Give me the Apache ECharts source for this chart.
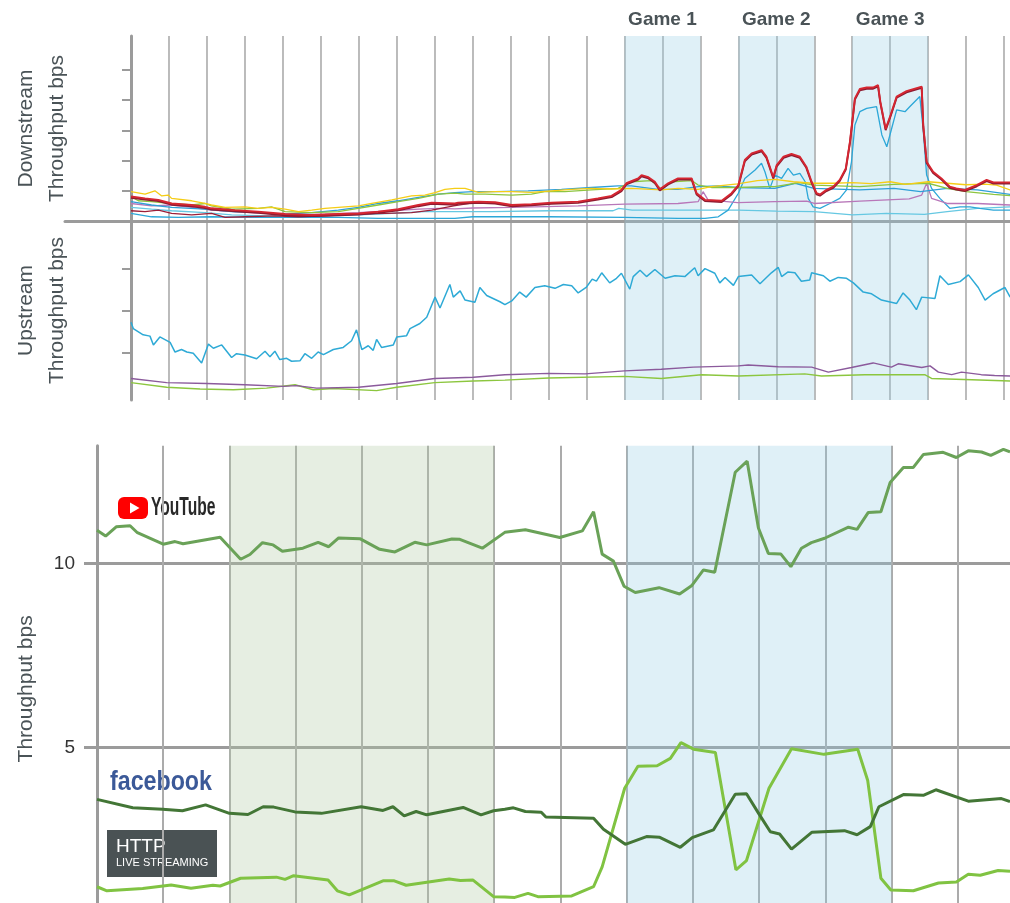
<!DOCTYPE html>
<html><head><meta charset="utf-8">
<script src="https://cdn.jsdelivr.net/npm/echarts@6/dist/echarts.min.js"></script>
<style>html,body{margin:0;padding:0;background:#fff}#c{width:1010px;height:903px}</style>
</head><body><div id="c"></div>
<script>
// ---------- top chart: time ticks and game periods ----------
const topTicks = [1,2,3,4,5,6,7,8,9,10,11,12,13,14,15,16,17,18,19,20,21,22,23];
const games = [['Game 1',13,15],['Game 2',16,18],['Game 3',19,21]];
const downTicks = [1,2,3,4,5];
const upTicks = [1,2,3];

// ---------- downstream throughput ----------
const dsYellow = [[0,0.97],[0.37,0.89],[0.63,1.0],[0.81,0.83],[0.98,0.86],[1.07,0.75],[1.6,0.67],[1.95,0.58],[2.12,0.53],[2.48,0.45],[3.0,0.47],[3.35,0.42],[3.7,0.45],[4.06,0.39],[4.41,0.31],[4.76,0.36],[5.11,0.42],[5.64,0.47],[5.99,0.5],[6.34,0.58],[6.87,0.7],[7.39,0.83],[7.74,0.86],[8.01,0.94],[8.27,1.05],[8.53,1.08],[8.8,1.08],[9.15,0.95],[9.59,0.97],[10.03,0.97],[10.55,0.95],[11.08,1.0],[11.6,1.05],[12.13,1.08],[12.66,1.06],[13.18,1.08],[13.7,1.05],[13.98,1.03],[14.41,1.08],[14.94,1.05],[15.29,1.14],[15.98,1.23],[16.5,1.34],[16.96,1.38],[17.45,1.3],[17.96,1.25],[18.5,1.25],[19.0,1.27],[19.5,1.24],[20.0,1.3],[20.4,1.21],[21.0,1.3],[21.5,1.25],[22.0,1.2],[22.5,1.22],[22.8,1.19],[23.16,1.03]];
const dsGreen = [[0,0.81],[0.19,0.67],[0.54,0.64],[1.07,0.58],[1.6,0.53],[1.95,0.58],[2.12,0.5],[2.65,0.39],[3.35,0.42],[3.7,0.47],[4.06,0.31],[4.76,0.28],[5.46,0.31],[5.99,0.42],[6.51,0.53],[7.04,0.64],[7.57,0.75],[8.1,0.89],[8.53,0.92],[8.8,0.89],[9.33,0.89],[10.03,0.86],[10.55,0.89],[10.9,0.97],[11.43,0.97],[12.13,1.03],[12.83,1.08],[13.18,1.3],[13.7,1.34],[13.98,1.05],[14.24,1.3],[14.77,1.34],[14.94,1.19],[15.29,1.11],[15.98,1.11],[16.7,1.14],[16.96,1.14],[17.6,1.27],[18.0,1.19],[19.2,1.14],[20.1,1.21],[21.0,1.25],[21.5,1.08],[22.0,0.97],[22.72,0.88],[23.16,0.84]];
const dsBlue = [[0,0.64],[0.54,0.53],[1.07,0.45],[1.95,0.39],[2.65,0.31],[3.35,0.28],[4.06,0.23],[4.76,0.28],[5.46,0.36],[5.99,0.45],[6.51,0.58],[7.04,0.67],[7.57,0.78],[8.1,0.89],[8.53,0.94],[9.0,0.97],[9.59,0.97],[10.46,1.0],[11.34,1.05],[12.13,1.11],[12.83,1.16],[13.18,1.16],[13.88,1.05],[14.41,1.05],[14.94,1.14],[15.47,1.16],[15.98,1.11],[16.96,1.08],[17.5,1.25],[17.99,1.08],[19.2,1.03],[20.1,1.08],[20.8,0.97],[21.5,1.08],[22.3,1.03],[23.16,0.88]];
const dsRed = [[0,0.81],[0.37,0.75],[0.72,0.7],[1.07,0.58],[1.6,0.53],[1.95,0.47],[2.12,0.42],[2.74,0.36],[3.35,0.31],[4.06,0.23],[4.76,0.2],[5.46,0.23],[5.99,0.25],[6.51,0.31],[7.04,0.39],[7.57,0.53],[7.92,0.61],[8.53,0.58],[8.62,0.61],[9.15,0.64],[9.59,0.62],[10.03,0.53],[10.55,0.56],[11.08,0.61],[11.78,0.64],[12.3,0.75],[12.66,0.83],[12.92,1.03],[13.05,1.25],[13.36,1.41],[13.45,1.52],[13.63,1.45],[13.8,1.3],[13.93,1.05],[14.15,1.25],[14.41,1.41],[14.77,1.41],[14.9,0.92],[15.12,0.7],[15.56,0.67],[15.82,0.92],[16.0,1.19],[16.17,2.02],[16.35,2.24],[16.61,2.35],[16.74,2.13],[16.92,1.45],[17.01,1.85],[17.19,2.13],[17.4,2.22],[17.62,2.13],[17.79,1.8],[17.93,1.3],[18.06,0.92],[18.15,0.88],[18.32,1.03],[18.5,1.14],[18.67,1.36],[18.83,1.74],[18.94,2.63],[19.07,4.06],[19.2,4.37],[19.38,4.42],[19.55,4.42],[19.68,4.5],[19.74,3.95],[19.88,3.05],[20.01,3.51],[20.17,4.12],[20.43,4.3],[20.83,4.45],[20.87,3.18],[20.96,1.96],[21.13,1.63],[21.35,1.41],[21.57,1.14],[21.74,1.08],[21.97,1.03],[22.28,1.19],[22.54,1.36],[22.72,1.28],[23.16,1.28]];
const dsMaroon = [[0,0.34],[0.37,0.31],[0.72,0.36],[1.07,0.25],[1.6,0.2],[2.12,0.25],[2.48,0.12],[3.0,0.14],[3.79,0.17],[4.41,0.14],[5.11,0.17],[5.99,0.23],[6.69,0.25],[7.39,0.28],[7.92,0.36],[8.5,0.5],[9.0,0.6],[9.15,0.62]];
const dsPurple = [[0,0.58],[0.54,0.5],[1.07,0.53],[1.6,0.45],[2.12,0.36],[2.74,0.31],[3.53,0.25],[4.41,0.2],[5.11,0.23],[5.99,0.28],[6.87,0.34],[7.57,0.39],[8.1,0.42],[8.53,0.4],[9.0,0.43],[10.03,0.45],[11.78,0.5],[13.0,0.56],[14.41,0.58],[14.94,0.64],[15.07,0.97],[15.2,0.7],[15.98,0.61],[16.96,0.64],[17.8,0.66],[18.0,0.58],[19.2,0.66],[20.5,0.73],[20.83,0.86],[20.96,1.25],[21.09,0.75],[21.5,0.58],[22.3,0.58],[23.16,0.53]];
const dsLightCyan = [[0,0.45],[0.54,0.39],[1.07,0.34],[1.95,0.28],[2.65,0.2],[3.53,0.17],[4.41,0.14],[5.11,0.17],[5.99,0.2],[6.87,0.25],[7.74,0.31],[8.5,0.31],[9.5,0.31],[11.0,0.34],[12.7,0.34],[12.85,0.42],[13.2,0.36],[14.4,0.36],[16.0,0.36],[17.0,0.33],[18.0,0.31],[19.0,0.2],[19.9,0.25],[20.9,0.22],[21.5,0.31],[22.3,0.42],[23.16,0.47]];
const dsCyan = [[0,0.25],[0.54,0.14],[1.25,0.12],[2.12,0.14],[3.35,0.12],[4.41,0.12],[5.46,0.12],[6.51,0.09],[7.57,0.09],[8.53,0.09],[9.0,0.14],[11.0,0.14],[13.0,0.12],[14.41,0.09],[15.12,0.09],[15.47,0.14],[15.73,0.36],[16.0,0.92],[16.17,1.41],[16.44,1.69],[16.61,1.91],[16.7,1.63],[16.83,1.08],[16.96,1.52],[17.14,1.41],[17.31,1.74],[17.45,1.52],[17.62,1.58],[17.76,1.3],[17.84,0.75],[17.97,0.47],[18.15,0.42],[18.41,0.58],[18.67,0.75],[18.85,1.03],[18.98,1.96],[19.07,3.18],[19.2,3.62],[19.38,3.73],[19.64,3.79],[19.78,2.85],[19.91,2.46],[20.04,3.07],[20.17,3.68],[20.39,3.62],[20.52,3.79],[20.78,4.12],[20.87,3.01],[20.96,1.52],[21.09,1.08],[21.31,0.75],[21.57,0.42],[21.84,0.47],[22.1,0.47],[22.36,0.42],[22.72,0.36],[23.16,0.36]];

// ---------- upstream throughput ----------
const usCyan = [[0,1.73],[0.06,1.58],[0.32,1.43],[0.5,1.4],[0.59,1.19],[0.76,1.38],[1.03,1.25],[1.16,1.02],[1.33,1.08],[1.47,1.02],[1.64,0.99],[1.86,0.76],[2.04,1.21],[2.17,1.11],[2.39,1.19],[2.65,0.89],[2.78,0.98],[3.0,0.95],[3.31,0.86],[3.53,1.04],[3.66,0.91],[3.79,1.04],[3.92,0.84],[4.1,0.87],[4.23,0.8],[4.45,0.81],[4.58,0.98],[4.76,0.87],[4.93,1.02],[5.07,0.96],[5.33,1.08],[5.59,1.13],[5.81,1.29],[5.94,1.55],[6.08,1.08],[6.25,1.17],[6.38,1.06],[6.47,1.32],[6.6,1.13],[6.91,1.19],[7.0,1.38],[7.26,1.41],[7.35,1.58],[7.61,1.7],[7.79,1.85],[8.01,2.33],[8.14,2.07],[8.4,2.63],[8.49,2.33],[8.67,2.48],[8.8,2.26],[9.06,2.21],[9.19,2.56],[9.37,2.37],[9.72,2.22],[9.85,2.15],[10.03,2.24],[10.24,2.45],[10.41,2.33],[10.64,2.56],[10.9,2.6],[11.17,2.54],[11.39,2.63],[11.61,2.6],[11.78,2.43],[11.99,2.56],[12.15,2.76],[12.26,2.71],[12.4,2.91],[12.61,2.67],[12.79,2.78],[12.92,2.9],[13.14,2.52],[13.23,2.82],[13.41,2.97],[13.58,2.82],[13.8,2.99],[14.07,2.78],[14.33,2.84],[14.59,2.82],[14.85,3.03],[14.94,2.84],[15.12,3.01],[15.38,2.9],[15.51,2.67],[15.65,2.8],[15.87,2.61],[16.0,2.82],[16.35,2.86],[16.57,2.65],[16.87,2.91],[17.05,3.04],[17.14,2.82],[17.31,2.93],[17.49,2.91],[17.66,2.71],[17.88,2.74],[17.93,2.91],[18.24,2.84],[18.41,2.71],[18.63,2.8],[18.85,2.78],[19.03,2.67],[19.29,2.45],[19.51,2.41],[19.77,2.26],[20.17,2.18],[20.34,2.43],[20.52,2.26],[20.69,2.03],[20.83,2.33],[21.18,2.3],[21.31,2.84],[21.53,2.63],[21.84,2.7],[22.06,2.86],[22.32,2.56],[22.5,2.26],[22.71,2.41],[23.02,2.56],[23.16,2.33]];
const usPurple = [[0,0.39],[0.94,0.29],[1.99,0.27],[3.0,0.24],[4.01,0.2],[4.36,0.22],[4.89,0.16],[5.99,0.18],[7.0,0.27],[8.0,0.39],[9.02,0.42],[9.85,0.48],[11.0,0.51],[11.96,0.5],[13.0,0.57],[13.97,0.61],[14.81,0.66],[16.0,0.69],[16.26,0.71],[17.05,0.67],[17.93,0.66],[18.37,0.54],[18.98,0.65],[19.55,0.76],[20.03,0.66],[20.21,0.74],[20.83,0.65],[21.05,0.69],[21.27,0.54],[21.62,0.48],[21.88,0.54],[22.4,0.48],[22.75,0.46],[23.16,0.45]];
const usGreen = [[0,0.29],[0.94,0.18],[1.82,0.14],[2.7,0.12],[3.57,0.16],[4.32,0.24],[4.8,0.12],[5.33,0.15],[6.47,0.1],[7.0,0.18],[8.0,0.29],[9.02,0.33],[9.85,0.35],[11.0,0.4],[13.0,0.44],[13.97,0.39],[15.03,0.48],[16.0,0.45],[17.75,0.5],[18.19,0.45],[19.33,0.48],[20.91,0.48],[21.09,0.39],[22.15,0.36],[23.16,0.33]];

// ---------- bottom chart ----------
const bottomTicks = [1,2,3,4,5,6,7,8,9,10,11,12,13];
const bottomYLabels = [5,10];
const calmPeriod = [2,6];
const gamePeriod = [8,12];
const youtube = [[0,10.9],[0.13,10.74],[0.29,10.99],[0.5,11.02],[0.61,10.83],[1.0,10.52],[1.18,10.59],[1.3,10.53],[1.86,10.71],[2.17,10.11],[2.31,10.24],[2.5,10.56],[2.66,10.5],[2.8,10.33],[3.11,10.41],[3.34,10.57],[3.5,10.45],[3.65,10.69],[3.97,10.67],[4.27,10.38],[4.5,10.31],[4.8,10.57],[4.98,10.5],[5.36,10.66],[5.48,10.65],[5.82,10.41],[6.16,10.84],[6.47,10.91],[6.99,10.7],[7.33,10.88],[7.5,11.4],[7.63,10.25],[7.8,10.06],[7.96,9.38],[8.13,9.21],[8.49,9.34],[8.8,9.17],[8.98,9.39],[9.16,9.82],[9.33,9.76],[9.64,12.47],[9.82,12.77],[9.99,10.96],[10.14,10.27],[10.33,10.25],[10.48,9.91],[10.64,10.41],[10.79,10.56],[10.99,10.68],[11.35,10.98],[11.48,10.92],[11.65,11.38],[11.84,11.4],[11.98,12.19],[12.18,12.6],[12.33,12.6],[12.48,12.95],[12.78,13.01],[12.98,12.87],[13.16,13.05],[13.36,13.02],[13.5,12.93],[13.69,13.09],[13.79,13.02]];
const facebook = [[0,3.6],[0.54,3.37],[0.99,3.33],[1.29,3.29],[1.64,3.45],[2.0,3.22],[2.28,3.19],[2.51,3.4],[2.67,3.39],[2.99,3.26],[3.39,3.22],[3.99,3.4],[4.32,3.3],[4.47,3.4],[4.64,3.15],[4.82,3.27],[4.98,3.18],[5.53,3.38],[5.8,3.18],[5.99,3.29],[6.16,3.33],[6.29,3.37],[6.47,3.27],[6.71,3.25],[6.78,3.12],[7.5,3.09],[7.65,2.79],[7.98,2.38],[8.3,2.59],[8.5,2.57],[8.81,2.3],[8.99,2.56],[9.31,2.77],[9.64,3.74],[9.81,3.75],[10.0,3.2],[10.17,2.72],[10.31,2.66],[10.49,2.25],[10.8,2.71],[11.29,2.75],[11.48,2.64],[11.68,2.86],[11.81,3.4],[12.18,3.73],[12.48,3.71],[12.67,3.86],[13.16,3.55],[13.66,3.62],[13.79,3.54]];
const hls = [[0,1.23],[0.15,1.12],[0.69,1.18],[1.12,1.28],[1.42,1.19],[1.75,1.27],[1.86,1.25],[2.17,1.46],[2.71,1.49],[2.84,1.43],[2.97,1.53],[3.49,1.41],[3.63,1.12],[3.81,1.01],[4.32,1.39],[4.49,1.39],[4.67,1.27],[5.32,1.44],[5.49,1.4],[5.68,1.41],[5.99,0.96],[6.16,0.95],[6.31,0.94],[6.51,1.05],[6.66,0.96],[7.17,0.98],[7.5,1.23],[7.63,1.77],[7.97,3.9],[8.17,4.5],[8.46,4.51],[8.66,4.71],[8.82,5.14],[9.01,4.96],[9.34,4.87],[9.65,1.69],[9.81,1.94],[10.15,3.9],[10.49,4.97],[10.98,4.82],[11.49,4.96],[11.64,4.12],[11.84,1.46],[11.99,1.14],[12.33,1.12],[12.71,1.33],[12.98,1.36],[13.16,1.57],[13.34,1.54],[13.61,1.67],[13.79,1.65]];

// ---------- styling ----------
const AXIS = '#9b9b9b', GRID = '#ababab', TXT = '#4a5357';
const BLUE_SHADE = 'rgba(148,205,228,0.30)', GREEN_SHADE = 'rgba(178,202,165,0.32)';
const FONT = '"Liberation Sans", Arial, sans-serif';

function line(data, color, width, xi, extra) {
  return Object.assign({
    type: 'line', data: data, xAxisIndex: xi, yAxisIndex: xi,
    symbol: 'none', silent: true, animation: false,
    lineStyle: { color: color, width: width }
  }, extra || {});
}
function areas(list, color, withLabel) {
  return {
    silent: true,
    itemStyle: { color: color },
    label: withLabel ? { show: true, position: 'top', distance: 7, color: TXT, fontSize: 19, fontWeight: 'bold', fontFamily: FONT } : { show: false },
    data: list.map(a => [{ name: a[0], xAxis: a[1] }, { xAxis: a[2] }])
  };
}

const topX = (gi, showLine) => ({
  gridIndex: gi, type: 'value', min: -1.739, max: 23.156,
  axisLine: { show: showLine, onZero: false, lineStyle: { color: AXIS, width: 3 } },
  axisTick: { show: true, length: 0, customValues: topTicks },
  axisLabel: { show: false },
  splitLine: { show: true, lineStyle: { color: GRID, width: 1.6 } }
});

const option = {
  animation: false,
  textStyle: { fontFamily: FONT },
  grid: [
    { left: 65, right: 0, top: 36, height: 185, outerBoundsMode: 'none', containLabel: false },
    { left: 65, right: 0, top: 221, height: 179, outerBoundsMode: 'none', containLabel: false },
    { left: 97, right: 0, top: 445.7, height: 486.4, outerBoundsMode: 'none', containLabel: false }
  ],
  xAxis: [
    topX(0, true),
    topX(1, false),
    {
      gridIndex: 2, type: 'value', min: 0, max: 13.79,
      axisLine: { show: false, onZero: false },
      axisTick: { show: true, length: 0, customValues: bottomTicks },
      axisLabel: { show: false },
      splitLine: { show: true, lineStyle: { color: GRID, width: 2 } }
    }
  ],
  yAxis: [
    {
      gridIndex: 0, type: 'value', min: 0, max: 6.126, offset: -66,
      axisLine: { show: true, onZero: false, lineStyle: { color: AXIS, width: 3 } },
      axisTick: { show: true, length: 9, customValues: downTicks, lineStyle: { color: AXIS, width: 2 } },
      axisLabel: { show: false }, splitLine: { show: false },
      name: 'Downstream\nThroughput bps', nameLocation: 'middle', nameRotate: 90, nameGap: 58,
      nameTextStyle: { color: TXT, fontSize: 21, lineHeight: 31, fontFamily: FONT }
    },
    {
      gridIndex: 1, type: 'value', min: -0.124, max: 4.146, offset: -66,
      axisLine: { show: true, onZero: false, lineStyle: { color: AXIS, width: 3 } },
      axisTick: { show: true, length: 9, customValues: upTicks, lineStyle: { color: AXIS, width: 2 } },
      axisLabel: { show: false }, splitLine: { show: false },
      name: 'Upstream\nThroughput bps', nameLocation: 'middle', nameRotate: 90, nameGap: 58,
      nameTextStyle: { color: TXT, fontSize: 21, lineHeight: 31, fontFamily: FONT }
    },
    {
      gridIndex: 2, type: 'value', min: 0, max: 13.19,
      axisLine: { show: true, onZero: false, lineStyle: { color: AXIS, width: 3 } },
      axisTick: { show: true, length: 13, customValues: bottomYLabels, lineStyle: { color: AXIS, width: 3 } },
      axisLabel: { show: true, customValues: bottomYLabels, margin: 22, color: '#333', fontSize: 19, fontFamily: FONT },
      splitLine: { show: true, lineStyle: { color: AXIS, width: 3 } },
      name: 'Throughput bps', nameLocation: 'middle', nameRotate: 90, nameGap: 60,
      nameTextStyle: { color: TXT, fontSize: 21, fontFamily: FONT }
    }
  ],
  series: [
    line(dsLightCyan, '#66c8e2', 1.3, 0, { markArea: areas(games, BLUE_SHADE, true) }),
    line(dsCyan, '#2ca7d8', 1.3, 0),
    line(dsPurple, '#b877b9', 1.3, 0),
    line(dsMaroon, '#9c1f38', 1.3, 0),
    line(dsBlue, '#2f9fd8', 1.3, 0),
    line(dsGreen, '#8dc540', 1.3, 0),
    line(dsYellow, '#f5cd16', 1.3, 0),
    line(dsRed, '#d52631', 1.9, 0, { lineStyle: { color: '#d52631', width: 1.9, shadowColor: '#8e1b31', shadowOffsetY: 1.2, shadowBlur: 0 } }),

    line(usGreen, '#8cc63f', 1.4, 1, { markArea: areas(games, BLUE_SHADE, false) }),
    line(usPurple, '#8b5a9c', 1.4, 1),
    line(usCyan, '#2eaad6', 1.5, 1),

    line(hls, '#80c342', 3, 2, { markArea: areas([['', calmPeriod[0], calmPeriod[1]]], GREEN_SHADE, false) }),
    line(facebook, '#437636', 3, 2, { markArea: areas([['', gamePeriod[0], gamePeriod[1]]], BLUE_SHADE, false) }),
    line(youtube, '#6aa258', 3, 2)
  ],
  graphic: [
    { type: 'rect', silent: true, shape: { x: 118, y: 497, width: 30, height: 22, r: 6 }, style: { fill: '#ff0000' } },
    { type: 'polygon', silent: true, shape: { points: [[130, 502.5], [130, 513.5], [139.5, 508]] }, style: { fill: '#ffffff' } },
    { type: 'text', silent: true, x: 151, y: 508, scaleX: 0.6, style: { text: 'YouTube', font: 'bold 26px "Liberation Sans"', fill: '#282828', verticalAlign: 'middle' } },
    { type: 'text', silent: true, x: 110, y: 783, scaleX: 0.86, style: { text: 'facebook', font: 'bold 27px "Liberation Sans"', fill: '#3b5998', verticalAlign: 'middle' } },
    { type: 'rect', silent: true, shape: { x: 107, y: 830, width: 110, height: 47 }, style: { fill: '#4a5254' } },
    { type: 'text', silent: true, x: 116, y: 847, style: { text: 'HTTP', font: '19px "Liberation Sans"', fill: '#ffffff', verticalAlign: 'middle' } },
    { type: 'text', silent: true, x: 116, y: 863, style: { text: 'LIVE STREAMING', font: '11px "Liberation Sans"', fill: '#ffffff', verticalAlign: 'middle' } }
  ]
};
const chart = echarts.init(document.getElementById('c'), null, { renderer: 'canvas' });
chart.setOption(option);
</script>
</body></html>
